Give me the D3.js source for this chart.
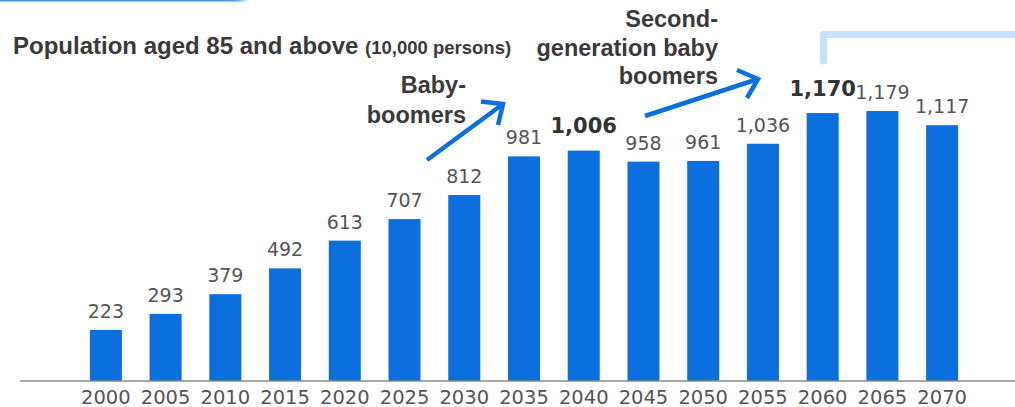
<!DOCTYPE html>
<html>
<head>
<meta charset="utf-8">
<script src="https://cdn.jsdelivr.net/npm/d3@7"></script>
<style>
  html, body { margin: 0; padding: 0; background: #fff; }
  svg { display: block; }
</style>
</head>
<body>
<svg id="chart" width="1015" height="407"></svg>
<script>
// Population aged 85 and above, in units of 10,000 persons
const years = ["2000","2005","2010","2015","2020","2025","2030","2035","2040","2045","2050","2055","2060","2065","2070"];
const population = [223, 293, 379, 492, 613, 707, 812, 981, 1006, 958, 961, 1036, 1170, 1179, 1117];
const highlightYears = ["2040", "2060"];

const svg = d3.select("#chart");
const W = 1015, H = 407;
const baseY = 381;

const x = d3.scaleBand()
  .domain(years)
  .range([76, 972])
  .paddingInner(0.464)
  .paddingOuter(0.232);

const y = d3.scaleLinear()
  .domain([0, 1200])
  .range([baseY, baseY - 0.229 * 1200]);

const fmt = d3.format(",");
const blue = "#0b6fde";

// thin accent line along the top-left edge
const grad = svg.append("defs").append("linearGradient")
  .attr("id", "topFade").attr("x1", 0).attr("x2", 1);
grad.append("stop").attr("offset", "0%").attr("stop-color", "#4a9be8");
grad.append("stop").attr("offset", "94%").attr("stop-color", "#4a9be8");
grad.append("stop").attr("offset", "100%").attr("stop-color", "#4a9be8").attr("stop-opacity", 0);
svg.append("rect").attr("x", 0).attr("y", 0).attr("width", 250).attr("height", 1.6)
  .attr("fill", "url(#topFade)");

// light bracket at the top-right
svg.append("path")
  .attr("d", "M823.5,61 L823.5,34.5 L1020,34.5")
  .attr("fill", "none")
  .attr("stroke", "#c8e0fb")
  .attr("stroke-width", 7)
  .attr("stroke-linecap", "round")
  .attr("stroke-linejoin", "round");

// bars
svg.append("g").selectAll("rect")
  .data(years)
  .join("rect")
  .attr("x", d => x(d))
  .attr("width", x.bandwidth())
  .attr("y", (d, i) => y(population[i]))
  .attr("height", (d, i) => baseY - y(population[i]))
  .attr("fill", blue);

// baseline axis
const axis = d3.axisBottom(x).tickSize(0).tickPadding(0);
const axisG = svg.append("g").attr("transform", `translate(0,${baseY})`).call(axis);
axisG.select(".domain").remove();
svg.append("line")
  .attr("x1", 20).attr("x2", W).attr("y1", baseY).attr("y2", baseY)
  .attr("stroke", "#8a8a8a").attr("stroke-width", 1.6);
axisG.selectAll(".tick text")
  .attr("y", 22.5)
  .attr("dy", null)
  .attr("font-family", "DejaVu Sans, Verdana, sans-serif")
  .attr("font-size", 19.5)
  .attr("fill", "#555");

// value labels
svg.append("g").selectAll("text")
  .data(years)
  .join("text")
  .attr("x", d => x(d) + x.bandwidth() / 2)
  .attr("y", (d, i) => y(population[i]) - (highlightYears.includes(d) ? 17.5 : 12))
  .attr("text-anchor", "middle")
  .attr("font-family", "DejaVu Sans, Verdana, sans-serif")
  .attr("font-size", d => highlightYears.includes(d) ? 21 : 19)
  .attr("font-weight", d => highlightYears.includes(d) ? "bold" : "normal")
  .attr("fill", d => highlightYears.includes(d) ? "#333" : "#555")
  .text((d, i) => fmt(population[i]));

// title
const title = svg.append("text")
  .attr("x", 13).attr("y", 54)
  .attr("font-family", "Liberation Sans, Arial, sans-serif")
  .attr("font-weight", "bold")
  .attr("fill", "#3a3a3a");
title.append("tspan").attr("font-size", 24).text("Population aged 85 and above ");
title.append("tspan").attr("font-size", 18.5).text("(10,000 persons)");

// annotations
function annotation(lines, xRight, yFirst, lineGap) {
  const t = svg.append("text")
    .attr("text-anchor", "end")
    .attr("font-family", "Liberation Sans, Arial, sans-serif")
    .attr("font-weight", "bold")
    .attr("font-size", 23.5)
    .attr("fill", "#3a3a3a");
  lines.forEach((s, i) => {
    t.append("tspan").attr("x", xRight).attr("y", yFirst + i * lineGap).text(s);
  });
}
annotation(["Baby-", "boomers"], 466, 93, 30);
annotation(["Second-", "generation baby", "boomers"], 718, 27, 28.5);

function arrow(x1, y1, x2, y2, a1, a2) {
  svg.append("line")
    .attr("x1", x1).attr("y1", y1).attr("x2", x2).attr("y2", y2)
    .attr("stroke", blue).attr("stroke-width", 4.5);
  svg.append("polyline")
    .attr("points", `${a1[0]},${a1[1]} ${x2},${y2} ${a2[0]},${a2[1]}`)
    .attr("fill", "none")
    .attr("stroke", blue).attr("stroke-width", 4.5)
    .attr("stroke-linejoin", "miter");
}
arrow(427, 160, 503, 104, [481, 101.5], [498, 125]);
arrow(645, 116, 758, 79, [737, 70], [747, 98]);
</script>
</body>
</html>
